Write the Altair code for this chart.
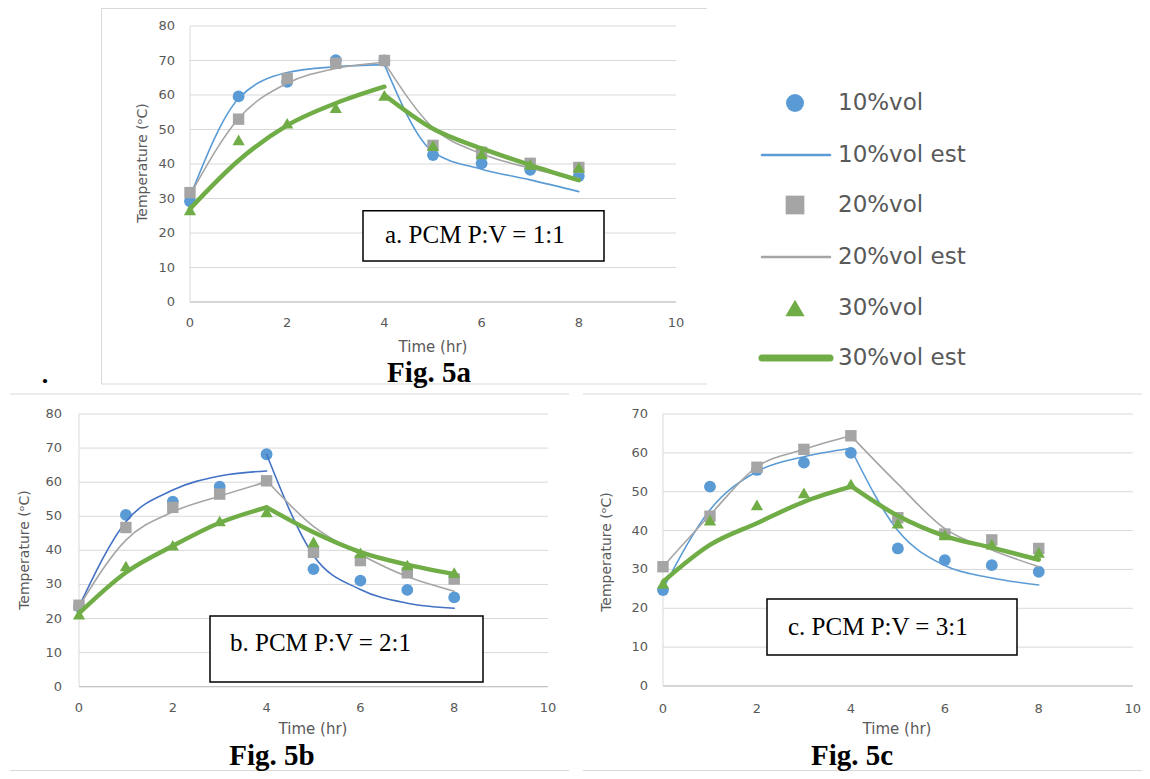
import altair as alt
import pandas as pd

# ---------------- data ----------------
HOURS = [0, 1, 2, 3, 4, 5, 6, 7, 8]
HEAT_HOURS = [0, 1, 2, 3, 4]
COOL_HOURS = [4, 5, 6, 7, 8]
SERIES = ["10%vol", "20%vol", "30%vol"]
EST_NAMES = ["10%vol est", "20%vol est", "30%vol est"]
X_TICKS = [0, 2, 4, 6, 8, 10]
Y_TICKS_80 = [0, 10, 20, 30, 40, 50, 60, 70, 80]
Y_TICKS_70 = [0, 10, 20, 30, 40, 50, 60, 70]

# Fig. 5a  (PCM P:V = 1:1)
A_OBS_10 = [29.2, 59.6, 63.8, 70.1, 70.0, 42.6, 40.2, 38.3, 36.5]
A_OBS_20 = [31.7, 53.0, 64.8, 69.2, 70.0, 45.4, 43.4, 40.2, 39.0]
A_OBS_30 = [26.7, 47.0, 51.8, 56.3, 59.9, 45.3, 42.9, 39.9, 39.0]
A_EST_10_HEAT = [30.5, 59.0, 66.5, 68.2, 68.8]
A_EST_10_COOL = [68.8, 43.5, 38.5, 35.4, 32.0]
A_EST_20_HEAT = [31.0, 53.2, 63.4, 67.7, 69.4]
A_EST_20_COOL = [69.4, 50.5, 43.0, 38.8, 35.8]
A_EST_30_HEAT = [27.0, 41.0, 51.2, 57.6, 62.4]
A_EST_30_COOL = [60.0, 50.2, 44.5, 39.7, 35.3]

# Fig. 5b  (PCM P:V = 2:1)
B_OBS_10 = [23.5, 50.4, 54.3, 58.7, 68.2, 34.5, 31.1, 28.4, 26.2]
B_OBS_20 = [23.9, 46.7, 52.6, 56.5, 60.4, 39.4, 37.0, 33.4, 31.6]
B_OBS_30 = [21.3, 35.4, 41.5, 48.6, 51.3, 42.5, 39.3, 35.7, 33.5]
B_EST_10_HEAT = [23.5, 48.4, 57.7, 61.8, 63.3]
B_EST_10_COOL = [68.2, 38.5, 28.5, 24.5, 23.0]
B_EST_20_HEAT = [23.5, 43.0, 51.3, 55.9, 60.1]
B_EST_20_COOL = [60.5, 47.0, 38.8, 32.3, 28.0]
B_EST_30_HEAT = [21.5, 33.5, 41.3, 48.1, 52.6]
B_EST_30_COOL = [52.6, 45.3, 39.5, 35.8, 33.0]

# Fig. 5c  (PCM P:V = 3:1)
C_OBS_10 = [24.7, 51.3, 55.6, 57.5, 60.0, 35.4, 32.4, 31.1, 29.4]
C_OBS_20 = [30.7, 43.7, 56.3, 60.9, 64.4, 43.3, 39.1, 37.6, 35.4]
C_OBS_30 = [26.4, 42.7, 46.6, 49.7, 52.0, 41.9, 38.9, 36.5, 34.4]
C_EST_10_HEAT = [25.0, 45.3, 55.2, 59.0, 61.2]
C_EST_10_COOL = [61.0, 40.0, 31.0, 27.8, 26.0]
C_EST_20_HEAT = [30.7, 44.0, 56.4, 60.9, 64.4]
C_EST_20_COOL = [64.4, 52.0, 40.5, 35.0, 30.7]
C_EST_30_HEAT = [26.8, 36.3, 41.9, 47.4, 51.3]
C_EST_30_COOL = [51.5, 43.8, 38.6, 35.6, 32.5]

PANEL_NOTES = ["a. PCM P:V = 1:1", "b. PCM P:V = 2:1", "c. PCM P:V = 3:1"]
FIG_CAPTIONS = ["Fig. 5a", "Fig. 5b", "Fig. 5c"]
X_TITLE = "Time (hr)"
Y_TITLE = "Temperature (\u1d52C)"

# ---------------- styles ----------------
W, H = 1134, 763
BLUE, GRAY, GREEN, DARKBLUE = "#5B9BD5", "#A5A5A5", "#70AD47", "#4472C4"
GRID = "#D9D9D9"
LABEL = "#595959"
SANS = "DejaVu Sans"
SERIF = "Liberation Serif"
SHAPES = ["circle", "square", "triangle-up"]
PT_SIZES = [140, 130, 150]


def obs_df(vals):
    return pd.DataFrame({"hour": HOURS, "temp": vals})


def est_df(heat, cool):
    a = pd.DataFrame({"hour": HEAT_HOURS, "temp": heat, "seg": "heat"})
    b = pd.DataFrame({"hour": COOL_HOURS, "temp": cool, "seg": "cool"})
    return pd.concat([a, b], ignore_index=True)


def one(**kw):
    return pd.DataFrame({k: [v] for k, v in kw.items()} or {"k": [0]})


def text_layer(txt, x, y, **kw):
    return alt.Chart(one(t=txt)).mark_text(**kw).encode(
        x=alt.value(x), y=alt.value(y), text="t:N")


def hline(x1, x2, y, color=GRID, width=1):
    return alt.Chart(one(k=0)).mark_rule(color=color, strokeWidth=width).encode(
        x=alt.value(x1), x2=alt.value(x2), y=alt.value(y))


def vline(x, y1, y2, color=GRID, width=1):
    return alt.Chart(one(k=0)).mark_rule(color=color, strokeWidth=width).encode(
        x=alt.value(x), y=alt.value(y1), y2=alt.value(y2))


def panel(obs, est, ymax, yticks, xr, yr, ydx, xdy, blue_est):
    xs = alt.Scale(domain=[0, 10], range=xr, nice=False, zero=False)
    ys = alt.Scale(domain=[0, ymax], range=yr, nice=False, zero=False)

    def X(f):
        return alt.X(f, type="quantitative", scale=xs, axis=None)

    def Y(f):
        return alt.Y(f, type="quantitative", scale=ys, axis=None)

    gdf = pd.DataFrame({"v": yticks, "x0": 0, "x1": 10, "lab": [str(t) for t in yticks]})
    grid = alt.Chart(gdf).mark_rule(color=GRID, strokeWidth=1).encode(
        x=X("x0"), x2="x1", y=Y("v"))
    base = alt.Chart(one(x0=0, x1=10, y0=0)).mark_rule(color="#BFBFBF", strokeWidth=1).encode(
        x=X("x0"), x2="x1", y=Y("y0"))
    yaxis = alt.Chart(one(x0=0, lo=0, hi=ymax)).mark_rule(color=GRID, strokeWidth=1).encode(
        x=X("x0"), y=Y("lo"), y2="hi")
    ylabs = alt.Chart(gdf).mark_text(align="right", baseline="middle", dx=-ydx,
                                     font=SANS, fontSize=13, color=LABEL).encode(
        x=X("x0"), y=Y("v"), text="lab:N")
    xdf = pd.DataFrame({"t": X_TICKS, "y0": 0, "lab": [str(t) for t in X_TICKS]})
    xlabs = alt.Chart(xdf).mark_text(align="center", baseline="middle", dy=xdy,
                                     font=SANS, fontSize=13, color=LABEL).encode(
        x=X("t"), y=Y("y0"), text="lab:N")

    layers = [grid, base, yaxis, ylabs, xlabs]
    colors = [BLUE, GRAY, GREEN]
    line_colors = [blue_est, GRAY, GREEN]
    widths = [1.6, 1.6, 4.5]
    for i in range(3):
        pts = alt.Chart(obs_df(obs[i])).mark_point(
            filled=True, shape=SHAPES[i], size=PT_SIZES[i], color=colors[i], opacity=1
        ).encode(x=X("hour"), y=Y("temp"))
        ln = alt.Chart(est_df(*est[i])).mark_line(
            interpolate="monotone", color=line_colors[i], strokeWidth=widths[i],
            strokeCap="round", strokeJoin="round"
        ).encode(x=X("hour"), y=Y("temp"), detail="seg:N", order="hour:Q")
        layers += [pts, ln]
    return alt.layer(*layers)


pa = panel([A_OBS_10, A_OBS_20, A_OBS_30],
           [(A_EST_10_HEAT, A_EST_10_COOL), (A_EST_20_HEAT, A_EST_20_COOL), (A_EST_30_HEAT, A_EST_30_COOL)],
           80, Y_TICKS_80, [182, 668], [294, 18], 15, 21, BLUE)
pb = panel([B_OBS_10, B_OBS_20, B_OBS_30],
           [(B_EST_10_HEAT, B_EST_10_COOL), (B_EST_20_HEAT, B_EST_20_COOL), (B_EST_30_HEAT, B_EST_30_COOL)],
           80, Y_TICKS_80, [71, 540], [678.7, 406], 17, 21, DARKBLUE)
pc = panel([C_OBS_10, C_OBS_20, C_OBS_30],
           [(C_EST_10_HEAT, C_EST_10_COOL), (C_EST_20_HEAT, C_EST_20_COOL), (C_EST_30_HEAT, C_EST_30_COOL)],
           70, Y_TICKS_70, [655, 1124.7], [678, 406], 15, 23, BLUE)

deco = []
# panel borders
deco += [hline(93.5, 699, 0.5), vline(93.5, 0, 376), hline(93.5, 699, 376)]
deco += [hline(2, 561, 386), hline(2, 561, 762.5)]
deco += [hline(575, 1134, 386), hline(575, 1134, 762.5)]

# axis titles
for (tx, ty), (yx, yy) in [((425, 339), (135, 155)), ((305, 721), (17, 542)), ((889, 721), (599, 544))]:
    deco.append(text_layer(X_TITLE, tx, ty, font=SANS, fontSize=15, color=LABEL,
                           align="center", baseline="middle"))
    deco.append(text_layer(Y_TITLE, yx, yy, font=SANS, fontSize=14, color=LABEL,
                           align="center", baseline="middle", angle=270))

# annotation boxes
for note, (x1, y1, x2, y2), (tx, ty) in zip(
        PANEL_NOTES,
        [(355, 202.7, 596, 253), (202, 608, 475, 674), (759, 591, 1009, 647)],
        [(377, 227), (222, 635), (780, 619)]):
    deco.append(alt.Chart(one(k=0)).mark_rect(fill="white", stroke="black", strokeWidth=1.5).encode(
        x=alt.value(x1), x2=alt.value(x2), y=alt.value(y1), y2=alt.value(y2)))
    deco.append(text_layer(note, tx, ty, font=SERIF, fontSize=25, color="black",
                           align="left", baseline="middle"))

# figure captions
for cap, (cx, cy) in zip(FIG_CAPTIONS, [(421, 374), (264, 757), (844, 757)]):
    deco.append(text_layer(cap, cx, cy, font=SERIF, fontSize=29, fontWeight="bold",
                           color="black", align="center", baseline="alphabetic"))
deco.append(text_layer(".", 37, 375, font=SERIF, fontSize=26, fontWeight="bold",
                       color="black", align="center", baseline="alphabetic"))

# legend
LEG_Y = [95, 147, 197, 249, 300, 350]
leg_colors = [BLUE, GRAY, GREEN]
leg_sizes = [324, 350, 372]
leg_widths = [2.5, 2.5, 7]
for i in range(3):
    ym, yl = LEG_Y[2 * i], LEG_Y[2 * i + 1]
    deco.append(alt.Chart(one(k=0)).mark_point(
        filled=True, shape=SHAPES[i], size=leg_sizes[i], color=leg_colors[i], opacity=1
    ).encode(x=alt.value(787), y=alt.value(ym)))
    deco.append(alt.Chart(one(k=0)).mark_rule(
        color=leg_colors[i], strokeWidth=leg_widths[i], strokeCap="round"
    ).encode(x=alt.value(754), x2=alt.value(822), y=alt.value(yl)))
    deco.append(text_layer(SERIES[i], 830, ym, font=SANS, fontSize=23, color=LABEL,
                           align="left", baseline="middle"))
    deco.append(text_layer(EST_NAMES[i], 830, yl, font=SANS, fontSize=23, color=LABEL,
                           align="left", baseline="middle"))

chart = (
    alt.layer(pa, pb, pc, *deco)
    .resolve_scale(x="independent", y="independent")
    .properties(width=W, height=H, padding=0, background="white",
                autosize=alt.AutoSizeParams(type="none"))
    .configure_view(strokeWidth=0)
)

chart.save("out.html", embed_options={"renderer": "svg", "actions": False})
